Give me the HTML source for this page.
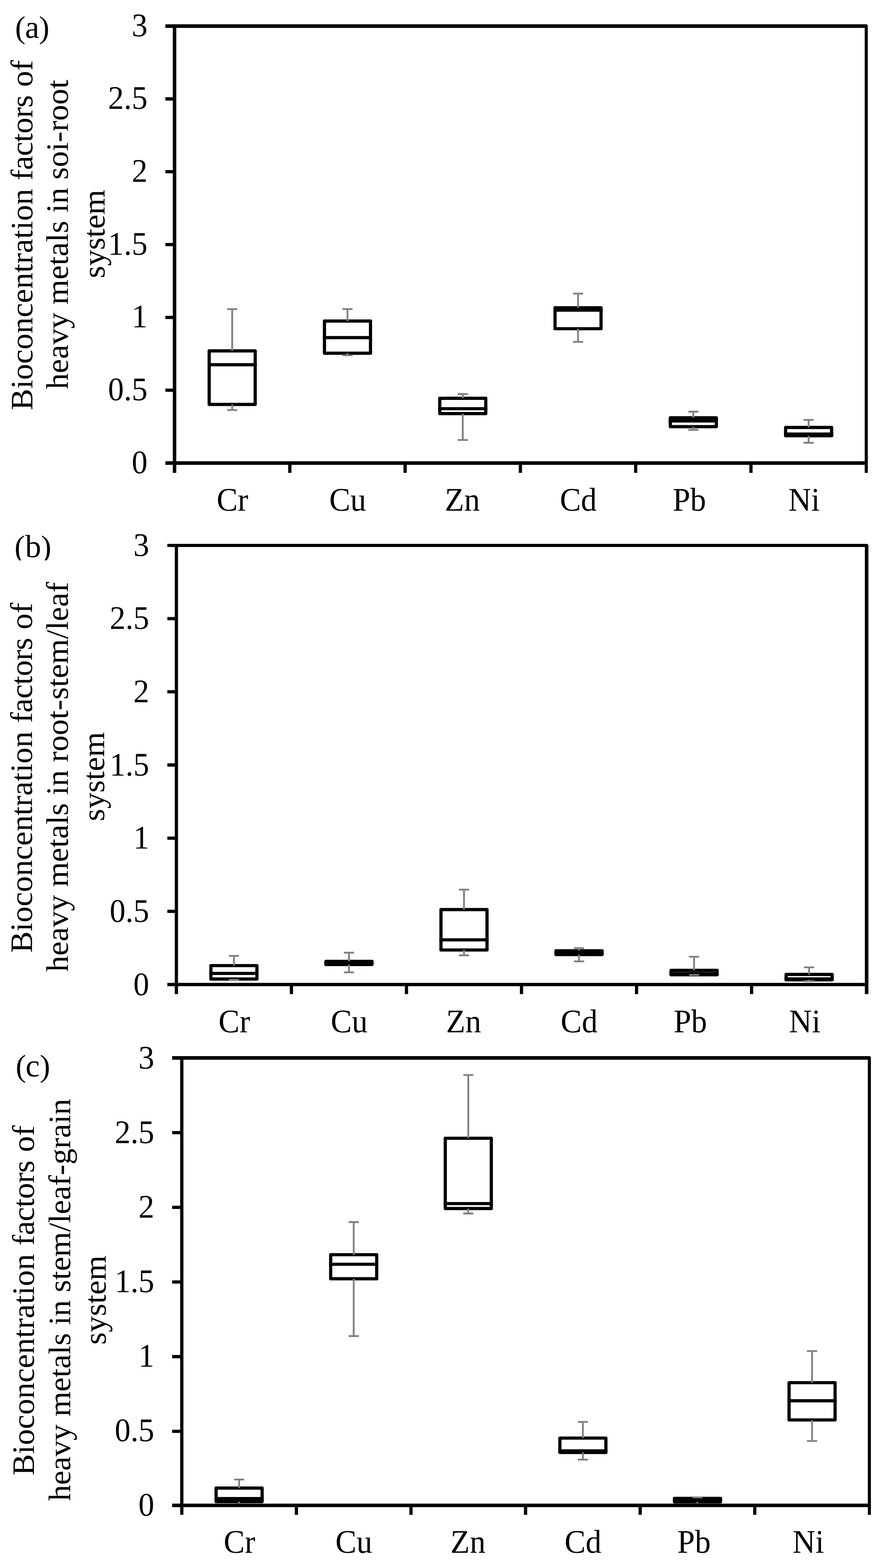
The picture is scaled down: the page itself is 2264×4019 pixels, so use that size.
<!DOCTYPE html>
<html lang="en"><head><meta charset="utf-8"><title>Bioconcentration factors of heavy metals</title>
<style>html,body{margin:0;padding:0;background:#fff}body{width:2264px;height:4019px;overflow:hidden}svg{display:block}text{font-family:'Liberation Serif', 'DejaVu Serif', serif;fill:#000;text-rendering:geometricPrecision}.t{font-size:80px}.a{font-size:81px}.p{font-size:80px}.l{font-size:82px}</style>
</head><body>
<svg width="2264" height="4019" viewBox="0 0 2264 4019">
<rect x="0" y="0" width="2264" height="4019" fill="#fff"/>
<g>
<rect x="536.34" y="899.4" width="118" height="137.2" fill="#fff" stroke="#000" stroke-width="8.2" stroke-linejoin="round"/>
<path d="M532.24 934.9H658.44" stroke="#000" stroke-width="8.2" fill="none"/>
<path d="M595.34 899.4V792.3M582.34 792.3H608.34M595.34 1036.6V1051M582.34 1051H608.34" stroke="#7f7f7f" stroke-width="4.6" fill="none"/>
<rect x="831.93" y="822.9" width="118" height="82.4" fill="#fff" stroke="#000" stroke-width="8.2" stroke-linejoin="round"/>
<path d="M827.83 865.4H954.03" stroke="#000" stroke-width="8.2" fill="none"/>
<path d="M890.93 822.9V792.3M877.93 792.3H903.93M890.93 905.3V910.8M877.93 910.8H903.93" stroke="#7f7f7f" stroke-width="4.6" fill="none"/>
<rect x="1127.51" y="1020.8" width="118" height="39.4" fill="#fff" stroke="#000" stroke-width="8.2" stroke-linejoin="round"/>
<path d="M1123.41 1047.5H1249.61" stroke="#000" stroke-width="8.2" fill="none"/>
<path d="M1186.51 1020.8V1010.1M1173.51 1010.1H1199.51M1186.51 1060.2V1127.8M1173.51 1127.8H1199.51" stroke="#7f7f7f" stroke-width="4.6" fill="none"/>
<rect x="1423.09" y="788.9" width="118" height="53.6" fill="#fff" stroke="#000" stroke-width="8.2" stroke-linejoin="round"/>
<path d="M1418.99 794.9H1545.19" stroke="#000" stroke-width="8.2" fill="none"/>
<path d="M1482.09 788.9V752.5M1469.09 752.5H1495.09M1482.09 842.5V876.2M1469.09 876.2H1495.09" stroke="#7f7f7f" stroke-width="4.6" fill="none"/>
<rect x="1718.68" y="1070.9" width="118" height="22.7" fill="#fff" stroke="#000" stroke-width="8.2" stroke-linejoin="round"/>
<path d="M1714.58 1079H1840.78" stroke="#000" stroke-width="8.2" fill="none"/>
<path d="M1777.68 1070.9V1055.1M1764.68 1055.1H1790.68M1777.68 1093.6V1101.9M1764.68 1101.9H1790.68" stroke="#7f7f7f" stroke-width="4.6" fill="none"/>
<rect x="2014.26" y="1095.7" width="118" height="21.3" fill="#fff" stroke="#000" stroke-width="8.2" stroke-linejoin="round"/>
<path d="M2010.16 1112.5H2136.36" stroke="#000" stroke-width="8.2" fill="none"/>
<path d="M2073.26 1095.7V1076.2M2060.26 1076.2H2086.26M2073.26 1117V1134.9M2060.26 1134.9H2086.26" stroke="#7f7f7f" stroke-width="4.6" fill="none"/>
<path d="M424 66.8H2221.05" stroke="#000" stroke-width="9.2" fill="none"/>
<path d="M2221.05 66.8V1211.9" stroke="#000" stroke-width="7.9" fill="none"/>
<ellipse cx="2221.05" cy="66.8" rx="3.95" ry="4.6" fill="#000"/>
<path d="M447.55 66.8V1211.9" stroke="#000" stroke-width="8.9" fill="none"/>
<path d="M424 1186.9H2221.05" stroke="#000" stroke-width="9.4" fill="none"/>
<path d="M424 1000.22H447.55M424 813.53H447.55M424 626.85H447.55M424 440.17H447.55M424 253.48H447.55M743.13 1186.9V1211.9M1038.72 1186.9V1211.9M1334.3 1186.9V1211.9M1629.88 1186.9V1211.9M1925.47 1186.9V1211.9" stroke="#000" stroke-width="8.3" fill="none"/>
<text class="a" transform="translate(378.25 1212.6) scale(1 1.045)" text-anchor="end">0</text>
<text class="a" transform="translate(378.25 1025.93) scale(1 1.045)" text-anchor="end">0.5</text>
<text class="a" transform="translate(378.25 839.27) scale(1 1.045)" text-anchor="end">1</text>
<text class="a" transform="translate(378.25 652.6) scale(1 1.045)" text-anchor="end">1.5</text>
<text class="a" transform="translate(378.25 465.93) scale(1 1.045)" text-anchor="end">2</text>
<text class="a" transform="translate(378.25 279.27) scale(1 1.045)" text-anchor="end">2.5</text>
<text class="a" transform="translate(378.25 92.6) scale(1 1.045)" text-anchor="end">3</text>
<text class="a" transform="translate(555.4 1308.8) scale(1 1.045)">Cr</text>
<text class="a" transform="translate(844.2 1308.8) scale(1 1.045)">Cu</text>
<text class="a" transform="translate(1140.6 1308.8) scale(1 1.045)">Zn</text>
<text class="a" transform="translate(1435.4 1308.8) scale(1 1.045)">Cd</text>
<text class="a" transform="translate(1724.7 1308.8) scale(1 1.045)">Pb</text>
<text class="a" transform="translate(2021.2 1308.8) scale(1 1.045)">Ni</text>
<text class="p" y="97"><tspan x="38.65">(</tspan><tspan class="l" x="64.3">a</tspan><tspan x="100.05">)</tspan></text>
<text class="t" xml:space="preserve" transform="translate(82.8 1049.5) rotate(-90) scale(1.03 1)"><tspan x="-2" style="letter-spacing:0.01px">Bioconcentration </tspan><tspan x="570.28" style="letter-spacing:-0.94px">factors </tspan><tspan x="802.72" style="letter-spacing:0px">of</tspan></text>
<text class="t" transform="translate(174.4 996.8) rotate(-90) scale(1.03 1)" x="-1" style="letter-spacing:-0.03px">heavy metals in soi-root</text>
<text class="t" transform="translate(267.5 710.2) rotate(-90) scale(1.03 1)" x="-3" style="letter-spacing:-0.32px">system</text>
</g>
<g>
<rect x="540.73" y="2475" width="118" height="34.4" fill="#fff" stroke="#000" stroke-width="8.2" stroke-linejoin="round"/>
<path d="M536.63 2495H662.83" stroke="#000" stroke-width="8.2" fill="none"/>
<path d="M599.73 2475V2450M586.73 2450H612.73M599.73 2509.4V2511.2M586.73 2511.2H612.73" stroke="#7f7f7f" stroke-width="4.6" fill="none"/>
<rect x="835.7" y="2464.2" width="118" height="8" fill="#fff" stroke="#000" stroke-width="8.2" stroke-linejoin="round"/>
<path d="M831.6 2468.2H957.8" stroke="#000" stroke-width="8.2" fill="none"/>
<path d="M894.7 2464.2V2441.9M881.7 2441.9H907.7M894.7 2472.2V2492.2M881.7 2492.2H907.7" stroke="#7f7f7f" stroke-width="4.6" fill="none"/>
<rect x="1130.67" y="2331.3" width="118" height="103.7" fill="#fff" stroke="#000" stroke-width="8.2" stroke-linejoin="round"/>
<path d="M1126.57 2409H1252.77" stroke="#000" stroke-width="8.2" fill="none"/>
<path d="M1189.67 2331.3V2280.3M1176.67 2280.3H1202.67M1189.67 2435V2448.6M1176.67 2448.6H1202.67" stroke="#7f7f7f" stroke-width="4.6" fill="none"/>
<rect x="1425.63" y="2437.1" width="118" height="9.6" fill="#fff" stroke="#000" stroke-width="8.2" stroke-linejoin="round"/>
<path d="M1421.53 2442H1547.73" stroke="#000" stroke-width="8.2" fill="none"/>
<path d="M1484.63 2437.1V2430.3M1471.63 2430.3H1497.63M1484.63 2446.7V2464.1M1471.63 2464.1H1497.63" stroke="#7f7f7f" stroke-width="4.6" fill="none"/>
<rect x="1720.6" y="2487.1" width="118" height="11.3" fill="#fff" stroke="#000" stroke-width="8.2" stroke-linejoin="round"/>
<path d="M1716.5 2495.5H1842.7" stroke="#000" stroke-width="8.2" fill="none"/>
<path d="M1779.6 2487.1V2452.2M1766.6 2452.2H1792.6M1779.6 2498.4V2498.7M1766.6 2498.7H1792.6" stroke="#7f7f7f" stroke-width="4.6" fill="none"/>
<rect x="2015.57" y="2497.7" width="118" height="13.8" fill="#fff" stroke="#000" stroke-width="8.2" stroke-linejoin="round"/>
<path d="M2011.47 2509H2137.67" stroke="#000" stroke-width="8.2" fill="none"/>
<path d="M2074.57 2497.7V2479.5M2061.57 2479.5H2087.57M2074.57 2511.5V2514.8M2061.57 2514.8H2087.57" stroke="#7f7f7f" stroke-width="4.6" fill="none"/>
<path d="M429.1 1398.05H2222.05" stroke="#000" stroke-width="7.9" fill="none"/>
<path d="M2222.05 1398.05V2548" stroke="#000" stroke-width="9.1" fill="none"/>
<ellipse cx="2222.05" cy="1398.05" rx="4.55" ry="3.95" fill="#000"/>
<path d="M452.25 1398.05V2548" stroke="#000" stroke-width="8.3" fill="none"/>
<path d="M429.1 2523.5H2222.05" stroke="#000" stroke-width="8.4" fill="none"/>
<path d="M429.1 2335.92H452.25M429.1 2148.33H452.25M429.1 1960.75H452.25M429.1 1773.17H452.25M429.1 1585.58H452.25M747.22 2523.5V2548M1042.18 2523.5V2548M1337.15 2523.5V2548M1632.12 2523.5V2548M1927.08 2523.5V2548" stroke="#000" stroke-width="8.3" fill="none"/>
<text class="a" transform="translate(382.45 2550.5) scale(1 1.045)" text-anchor="end">0</text>
<text class="a" transform="translate(382.45 2362.87) scale(1 1.045)" text-anchor="end">0.5</text>
<text class="a" transform="translate(382.45 2175.23) scale(1 1.045)" text-anchor="end">1</text>
<text class="a" transform="translate(382.45 1987.6) scale(1 1.045)" text-anchor="end">1.5</text>
<text class="a" transform="translate(382.45 1799.97) scale(1 1.045)" text-anchor="end">2</text>
<text class="a" transform="translate(382.45 1612.33) scale(1 1.045)" text-anchor="end">2.5</text>
<text class="a" transform="translate(382.45 1424.7) scale(1 1.045)" text-anchor="end">3</text>
<text class="a" transform="translate(560.25 2646.4) scale(1 1.045)">Cr</text>
<text class="a" transform="translate(848 2646.4) scale(1 1.045)">Cu</text>
<text class="a" transform="translate(1143.7 2646.4) scale(1 1.045)">Zn</text>
<text class="a" transform="translate(1437.6 2646.4) scale(1 1.045)">Cd</text>
<text class="a" transform="translate(1727.3 2646.4) scale(1 1.045)">Pb</text>
<text class="a" transform="translate(2023.1 2646.4) scale(1 1.045)">Ni</text>
<clipPath id="cp1"><rect x="0" y="1308" width="400" height="128.3"/></clipPath>
<text class="p" y="1428" clip-path="url(#cp1)"><tspan x="37.3">(</tspan><tspan class="l" x="64.6">b</tspan><tspan x="104.95">)</tspan></text>
<text class="t" xml:space="preserve" transform="translate(82.4 2440.3) rotate(-90) scale(1.03 1)"><tspan x="-2" style="letter-spacing:0.01px">Bioconcentration </tspan><tspan x="570.28" style="letter-spacing:-0.94px">factors </tspan><tspan x="802.72" style="letter-spacing:0px">of</tspan></text>
<text class="t" transform="translate(174.4 2489.6) rotate(-90) scale(1.03 1)" x="-1" style="letter-spacing:-0.03px">heavy metals in root-stem/leaf</text>
<text class="t" transform="translate(267.3 2101.8) rotate(-90) scale(1.03 1)" x="-3" style="letter-spacing:-0.05px">system</text>
</g>
<g>
<rect x="554.06" y="3814.1" width="118" height="34.9" fill="#fff" stroke="#000" stroke-width="8.2" stroke-linejoin="round"/>
<path d="M549.96 3841.2H676.16" stroke="#000" stroke-width="8.2" fill="none"/>
<path d="M613.06 3814.1V3792.2M600.06 3792.2H626.06M613.06 3849V3856M600.06 3856H626.06" stroke="#7f7f7f" stroke-width="4.6" fill="none"/>
<rect x="847.88" y="3216" width="118" height="61.7" fill="#fff" stroke="#000" stroke-width="8.2" stroke-linejoin="round"/>
<path d="M843.77 3240.5H969.98" stroke="#000" stroke-width="8.2" fill="none"/>
<path d="M906.88 3216V3132.4M893.88 3132.4H919.88M906.88 3277.7V3424.6M893.88 3424.6H919.88" stroke="#7f7f7f" stroke-width="4.6" fill="none"/>
<rect x="1141.69" y="2917.5" width="118" height="180.2" fill="#fff" stroke="#000" stroke-width="8.2" stroke-linejoin="round"/>
<path d="M1137.59 3085H1263.79" stroke="#000" stroke-width="8.2" fill="none"/>
<path d="M1200.69 2917.5V2755.5M1187.69 2755.5H1213.69M1200.69 3097.7V3110.4M1187.69 3110.4H1213.69" stroke="#7f7f7f" stroke-width="4.6" fill="none"/>
<rect x="1435.51" y="3686" width="118" height="36.8" fill="#fff" stroke="#000" stroke-width="8.2" stroke-linejoin="round"/>
<path d="M1431.41 3718.8H1557.61" stroke="#000" stroke-width="8.2" fill="none"/>
<path d="M1494.51 3686V3644.5M1481.51 3644.5H1507.51M1494.51 3722.8V3741.3M1481.51 3741.3H1507.51" stroke="#7f7f7f" stroke-width="4.6" fill="none"/>
<rect x="1729.32" y="3840.5" width="118" height="8.9" fill="#fff" stroke="#000" stroke-width="8.2" stroke-linejoin="round"/>
<path d="M1725.22 3845H1851.42" stroke="#000" stroke-width="8.2" fill="none"/>
<path d="M1788.32 3840.5V3838M1775.32 3838H1801.32M1788.32 3849.4V3856M1775.32 3856H1801.32" stroke="#7f7f7f" stroke-width="4.6" fill="none"/>
<rect x="2023.14" y="3544" width="118" height="95.5" fill="#fff" stroke="#000" stroke-width="8.2" stroke-linejoin="round"/>
<path d="M2019.04 3590.4H2145.24" stroke="#000" stroke-width="8.2" fill="none"/>
<path d="M2082.14 3544V3463M2069.14 3463H2095.14M2082.14 3639.5V3693.5M2069.14 3693.5H2095.14" stroke="#7f7f7f" stroke-width="4.6" fill="none"/>
<path d="M441.4 2711.65H2229.05" stroke="#000" stroke-width="9.1" fill="none"/>
<path d="M2229.05 2711.65V3882.7" stroke="#000" stroke-width="7.9" fill="none"/>
<ellipse cx="2229.05" cy="2711.65" rx="3.95" ry="4.55" fill="#000"/>
<path d="M466.15 2711.65V3882.7" stroke="#000" stroke-width="8.3" fill="none"/>
<path d="M441.4 3858.5H2229.05" stroke="#000" stroke-width="9" fill="none"/>
<path d="M441.4 3668.63H466.15M441.4 3477.27H466.15M441.4 3285.9H466.15M441.4 3094.53H466.15M441.4 2903.17H466.15M759.97 3858.5V3882.7M1053.78 3858.5V3882.7M1347.6 3858.5V3882.7M1641.42 3858.5V3882.7M1935.23 3858.5V3882.7" stroke="#000" stroke-width="8.3" fill="none"/>
<text class="a" transform="translate(395.55 3884.5) scale(1 1.045)" text-anchor="end">0</text>
<text class="a" transform="translate(395.55 3693.53) scale(1 1.045)" text-anchor="end">0.5</text>
<text class="a" transform="translate(395.55 3502.57) scale(1 1.045)" text-anchor="end">1</text>
<text class="a" transform="translate(395.55 3311.6) scale(1 1.045)" text-anchor="end">1.5</text>
<text class="a" transform="translate(395.55 3120.63) scale(1 1.045)" text-anchor="end">2</text>
<text class="a" transform="translate(395.55 2929.67) scale(1 1.045)" text-anchor="end">2.5</text>
<text class="a" transform="translate(395.55 2738.7) scale(1 1.045)" text-anchor="end">3</text>
<text class="a" transform="translate(573.5 3979.5) scale(1 1.045)">Cr</text>
<text class="a" transform="translate(859.9 3979.5) scale(1 1.045)">Cu</text>
<text class="a" transform="translate(1155.1 3979.5) scale(1 1.045)">Zn</text>
<text class="a" transform="translate(1447.5 3979.5) scale(1 1.045)">Cd</text>
<text class="a" transform="translate(1736.6 3979.5) scale(1 1.045)">Pb</text>
<text class="a" transform="translate(2032 3979.5) scale(1 1.045)">Ni</text>
<text class="p" y="2759.2"><tspan x="40.25">(</tspan><tspan class="l" x="65.6">c</tspan><tspan x="101.95">)</tspan></text>
<text class="t" xml:space="preserve" transform="translate(86.9 3779.9) rotate(-90) scale(1.03 1)"><tspan x="-2" style="letter-spacing:0.01px">Bioconcentration </tspan><tspan x="570.28" style="letter-spacing:-0.94px">factors </tspan><tspan x="802.72" style="letter-spacing:0px">of</tspan></text>
<text class="t" transform="translate(179.5 3846) rotate(-90) scale(1.03 1)" x="-1" style="letter-spacing:-0.19px">heavy metals in stem/leaf-grain</text>
<text class="t" transform="translate(270.65 3443.6) rotate(-90) scale(1.03 1)" x="-3" style="letter-spacing:-0.03px">system</text>
</g>
</svg>
</body></html>
